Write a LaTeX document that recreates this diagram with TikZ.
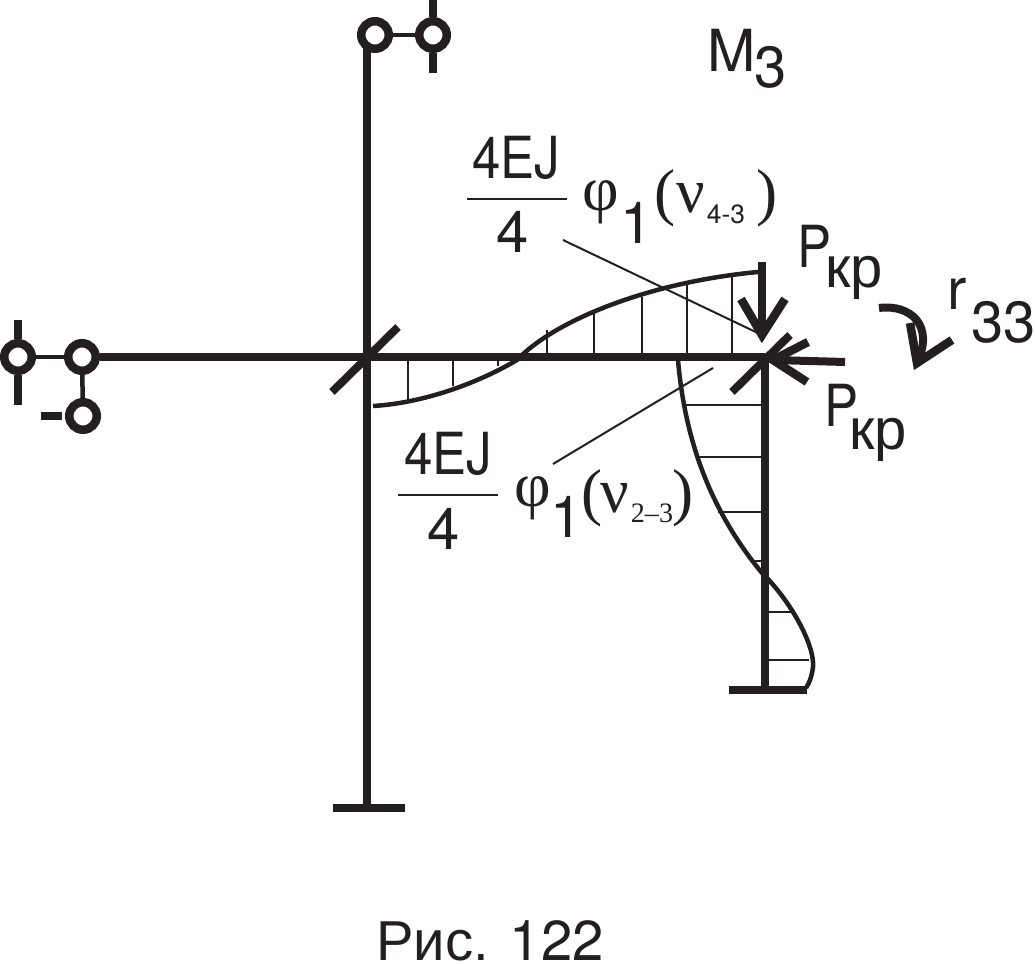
\documentclass[tikz,border=0pt]{standalone}
\usepackage{fontspec}
\setmainfont{TeX Gyre Heros}
\newfontfamily\cyr{Liberation Sans}
\newfontfamily\narrowf[FakeStretch=0.88]{TeX Gyre Heros}
\newfontfamily\serifgr{Liberation Serif}
\definecolor{ink}{HTML}{231F20}
\tikzset{
  bar/.style={draw=ink, line width=8.5*0.2845pt},
  tick/.style={draw=ink, line width=8*0.2845pt},
  tip/.style={draw=ink, line width=8.5*0.2845pt, miter limit=10},
  epure/.style={draw=ink, line width=4.5*0.2845pt},
  thin/.style={draw=ink, line width=2*0.2845pt},
  link/.style={draw=ink, line width=4.5*0.2845pt},
  hinge/.style={circle, draw=ink, fill=white, line width=8.5*0.2845pt, minimum size=27.5*0.2845pt, inner sep=0pt},
  txt/.style={text=ink, inner sep=0pt, anchor=base, font=\fontsize{16.5}{18}\selectfont},
  capt/.style={text=ink, inner sep=0pt, anchor=base, font=\fontsize{16}{18}\selectfont},
  nrw/.style={text=ink, inner sep=0pt, anchor=base, font=\fontsize{16.5}{18}\selectfont\narrowf},
  cyrtxt/.style={text=ink, inner sep=0pt, anchor=base, font=\fontsize{16.5}{18}\selectfont\cyr},
  gr/.style={text=ink, inner sep=0pt, anchor=base, font=\fontsize{18}{20}\selectfont\serifgr},
  sub/.style={text=ink, inner sep=0pt, anchor=base, font=\fontsize{8}{9}\selectfont\serifgr},
  subs/.style={text=ink, inner sep=0pt, anchor=base, font=\fontsize{7.5}{9}\selectfont}
}
\begin{document}
\begin{tikzpicture}[x=0.01cm, y=-0.01cm]
\useasboundingbox (0,0) rectangle (1035,964);

\def\xa{367}; % left column
\def\xb{765}; % right column
\def\yb{357}; % beam

\coordinate (topend) at (\xa, 35);
\coordinate (footl) at (\xa, 808);
\coordinate (footr) at (\xb, 690);
\coordinate (jointl) at (\xa, \yb);
\coordinate (jointr) at (\xb, \yb);

% frame
\draw[bar] (topend) -- (footl);
\draw[bar] (jointr) -- (footr);
\draw[tick] (333, 808) -- (405, 808);
\draw[tick] (729, 690) -- (807, 690);
\draw[tick] (332, 392) -- (398, 327);
\draw[tick] (732, 392) -- (790, 335);

% hinges
\node[hinge] (ha) at (375, 35) {};
\node[hinge] (hb) at (433, 35) {};
\node[hinge] (hc) at (18, 357) {};
\node[hinge] (hd) at (82, 357) {};
\node[hinge] (he) at (83, 416) {};

\draw[bar] (hd) -- (jointr);
\draw[link] (ha) -- (hb);
\draw[link] (hc) -- (hd);
\draw[link] (hd) -- (he);
\draw[tick] (433, 0) -- (hb);
\draw[tick] (hb) -- (433, 73);
\draw[tick] (18, 320) -- (hc);
\draw[tick] (hc) -- (18, 405);
\draw[tick] (41, 416) -- (62, 416);

% hatching
\foreach \x/\y in {408/400, 453/386, 498/366} {
  \draw[thin] (\x, \yb) -- (\x, \y);
}
\foreach \x/\y in {547/330, 594/311, 642/297, 687/285, 732/275} {
  \draw[thin] (\x, \yb) -- (\x, \y);
}
\foreach \x/\y in {685/405, 697/457, 718/512, 750/561} {
  \draw[thin] (\x, \y) -- (\xb, \y);
}
\foreach \x/\y in {793/612, 809/660} {
  \draw[thin] (\xb, \y) -- (\x, \y);
}

% moment curves
\draw[epure] (373, 406) .. controls (425, 403) and (480, 382) .. (517, 360)
  .. controls (555, 320) and (650, 282) .. (758, 272);
\draw[epure] (678, 360) .. controls (685, 440) and (710, 510) .. (762, 573)
  .. controls (790, 600) and (815, 645) .. (813, 667) .. controls (812, 675) and (810, 682) .. (806, 688);

% forces
\coordinate (tipd) at (762, 335);
\coordinate (tipl) at (773, 360);
\coordinate (tipr) at (917, 363);
\draw[tick] (762, 262) -- (tipd);
\draw[tip] (741, 299) -- (tipd) -- (785, 299);
\draw[tick] (845, 362) -- (tipl);
\draw[tip] (808, 342) -- (tipl) -- (807, 382);
\draw[tick] (879, 308) .. controls (910, 304) and (935, 325) .. (tipr);
\draw[tip] (910, 323) -- (tipr) -- (952, 340);

% leaders
\coordinate (leada) at (563, 240);
\coordinate (leadb) at (553, 464);
\draw[thin] (leada) -- (tipd);
\draw[thin] (leadb) -- (713, 368);

% labels
\node[txt] (mlab) at (732, 72) {M};
\node[txt] (mnum) at (771, 88) {3};
\node[nrw] (pa) at (815, 268) {P};
\node[cyrtxt] (paa) at (854, 288) {кр};
\node[nrw] (pb) at (842, 427) {P};
\node[cyrtxt] (pbb) at (878, 450) {кр};
\node[txt] (rlab) at (957, 310) {r};
\node[txt] (rnum) at (1004, 343) {33};

\node[nrw] (numa) at (516, 179) {4EJ};
\draw[thin] (467, 199) -- (567, 199);
\node[txt] (dena) at (513, 253) {4};
\node[gr] (phia) at (601, 211) {φ};
\node[txt] (onea) at (637, 244) {1};
\node[gr] (lpa) at (665, 214) {(};
\node[gr] (nua) at (691, 213) {ν};
\node[subs] (suba) at (726, 224) {4-3};
\node[gr] (rpa) at (767, 214) {)};

\node[nrw] (numb) at (448, 475) {4EJ};
\draw[thin] (398, 495) -- (498, 495);
\node[txt] (denb) at (444, 550) {4};
\node[gr] (phib) at (533, 507) {φ};
\node[txt] (oneb) at (567, 538) {1};
\node[gr] (lpb) at (592, 514) {(};
\node[gr] (nub) at (615, 513) {ν};
\node[sub] (subb) at (652, 523) {2–3};
\node[gr] (rpb) at (683, 514) {)};

\node[capt] (capt) at (490, 961) {{\cyr Рис.} 122};
\end{tikzpicture}
\end{document}
